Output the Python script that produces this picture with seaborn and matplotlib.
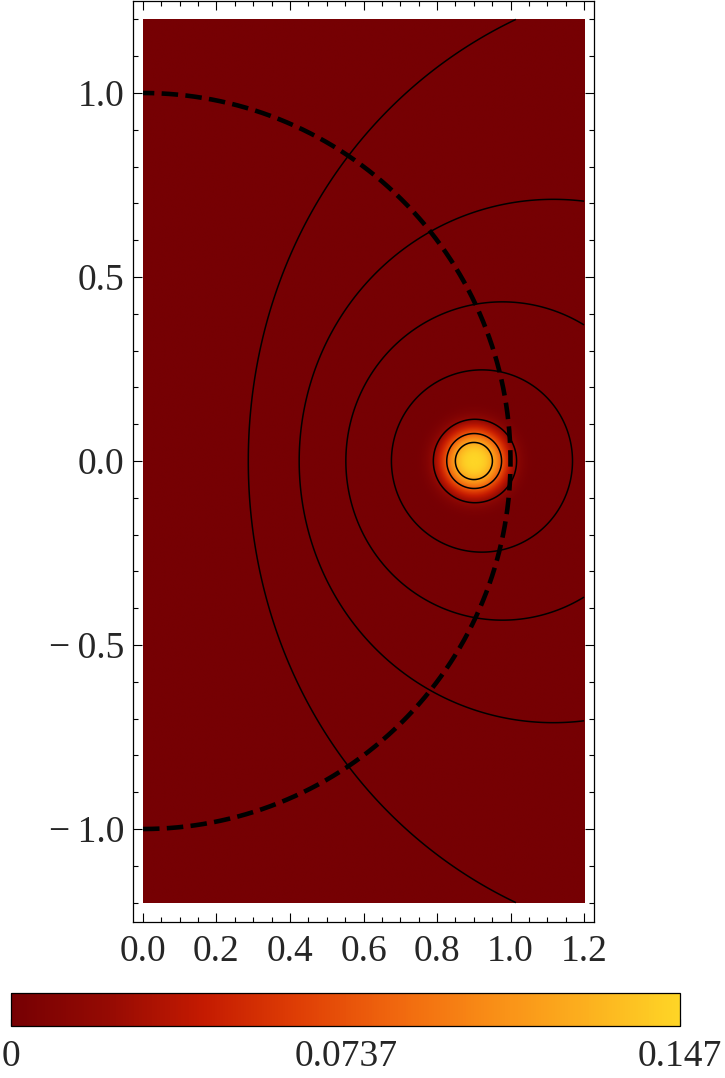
import numpy as np
import matplotlib
matplotlib.use("Agg")
import matplotlib.pyplot as plt
from matplotlib.ticker import MultipleLocator, FuncFormatter
import seaborn as sns

# ---- data ----
x_range = [0.0, 1.2]
y_range = [-1.2, 1.2]
source_x = 0.9            # bright spot location
peak_value = 0.147        # colour-bar maximum
glow_radius = 0.088       # radial scale of the bright spot
glow_power = 2.8
# contour field parameters (fitted to the contour shapes of the reference)
near_weight = 0.15
far_exponent = -0.1
image_offset = 0.7
# where each contour line crosses y = 0 on the inner side of the source
contour_crossings_x = [0.2865, 0.425, 0.552, 0.676, 0.79, 0.8265, 0.85]
circle_radius = 1.0
cbar_ticks = [0.0, 0.0737, 0.147]
cbar_labels = ["0", "0.0737", "0.147"]
palette_colors = ["#760003", "#950a03", "#c41a01", "#df3e05",
                  "#f0660e", "#f98c16", "#fcaf1e", "#fed526"]

sns.set_style("ticks")
plt.rcParams["font.family"] = ["Liberation Serif", "DejaVu Serif"]
plt.rcParams["axes.unicode_minus"] = True


def field(x, y):
    r1 = np.maximum(np.hypot(x - source_x, y), 1e-9)
    r2 = np.hypot(x + image_offset, y)
    far = (r2 ** far_exponent - r1 ** far_exponent) / far_exponent
    return near_weight * (1.0 / r1 - 1.0 / r2) + far


# ---- fields ----
nx, ny = 600, 1200
xs = np.linspace(x_range[0], x_range[1], nx)
ys = np.linspace(y_range[0], y_range[1], ny)
X, Y = np.meshgrid(xs, ys)
G = field(X, Y)
R = np.hypot(X - source_x, Y)
F = peak_value * np.exp(-(R / glow_radius) ** glow_power)
levels = np.sort(field(np.array(contour_crossings_x),
                       np.zeros(len(contour_crossings_x))))

cmap = sns.blend_palette(palette_colors, as_cmap=True)

fig = plt.figure(figsize=(7.25, 10.78), dpi=100)
ax = fig.add_axes([133 / 725, (1078 - 922) / 1078, 461 / 725, 921 / 1078])

im = ax.imshow(F, extent=[x_range[0], x_range[1], y_range[0], y_range[1]],
               origin="lower", cmap=cmap, vmin=0, vmax=peak_value,
               interpolation="bilinear", aspect="auto", zorder=1)
ax.contour(X, Y, G, levels=levels, colors="black",
           linewidths=1.1, zorder=2)

theta = np.linspace(-np.pi / 2, np.pi / 2, 400)
ax.plot(circle_radius * np.cos(theta), circle_radius * np.sin(theta),
        color="black", lw=3.3, dashes=(3.6, 1.6), zorder=3,
        dash_capstyle="butt")

ax.set_xlim(-0.0272, 1.2272)
ax.set_ylim(-1.2527, 1.25)

ax.xaxis.set_major_locator(MultipleLocator(0.2))
ax.xaxis.set_minor_locator(MultipleLocator(0.05))
ax.yaxis.set_major_locator(MultipleLocator(0.5))
ax.yaxis.set_minor_locator(MultipleLocator(0.1))


def fmt(v, pos):
    s = f"{abs(v):.1f}"
    return ("\u2212\u2009" + s) if v < -1e-9 else s


ax.xaxis.set_major_formatter(FuncFormatter(fmt))
ax.yaxis.set_major_formatter(FuncFormatter(fmt))
ax.tick_params(which="both", direction="in", top=True, right=True,
               labeltop=False, labelright=False, width=0.8, color="black",
               labelsize=27)
ax.tick_params(which="major", length=6.5)
ax.tick_params(which="minor", length=3.6)
ax.tick_params(axis="x", pad=9)
ax.tick_params(axis="y", pad=6)
for sp in ax.spines.values():
    sp.set_linewidth(0.9)
    sp.set_color("black")

cax = fig.add_axes([11 / 725, (1078 - 1026) / 1078, 669 / 725, 33 / 1078])
cb = fig.colorbar(im, cax=cax, orientation="horizontal", ticks=cbar_ticks)
cb.set_ticklabels(cbar_labels)
cb.outline.set_linewidth(0.9)
cb.outline.set_edgecolor("black")
cax.tick_params(direction="in", length=5, width=0.8, labelsize=27, pad=10,
                color="black")

fig.savefig("out.png", dpi=100)
